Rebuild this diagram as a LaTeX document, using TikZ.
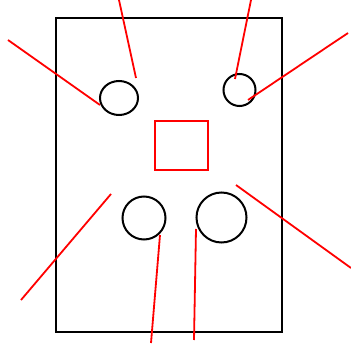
\documentclass[tikz,border=0pt]{standalone}
\begin{document}
\begin{tikzpicture}[x=1pt, y=-1pt, outline/.style={black, line width=2pt}, lead/.style={red, line width=1.8pt}]
        % Frame
        \useasboundingbox (0,0) rectangle (351,345);
        \draw[outline] (56,18) rectangle (282,332);

        % Holes
        \draw[outline] (119,98) ellipse (19 and 17);
        \draw[outline] (239.5,90) circle (16);
        \draw[outline] (144,218) circle (21.5);
        \draw[outline] (221.5,217.5) circle (25);

        % Centre square
        \draw[lead] (155,121) rectangle (208,170);

        % Leader lines
        \draw[lead] (8,40) -- (100,105);
        \draw[lead] (119,0) -- (136,78);
        \draw[lead] (251,0) -- (235,79);
        \draw[lead] (348,33) -- (248,100);
        \draw[lead] (111,194) -- (21,300);
        \draw[lead] (160,235) -- (151,343);
        \draw[lead] (236,185) -- (351,268);
        \draw[lead] (196,229) -- (194,340);
    \end{tikzpicture}
\end{document}
